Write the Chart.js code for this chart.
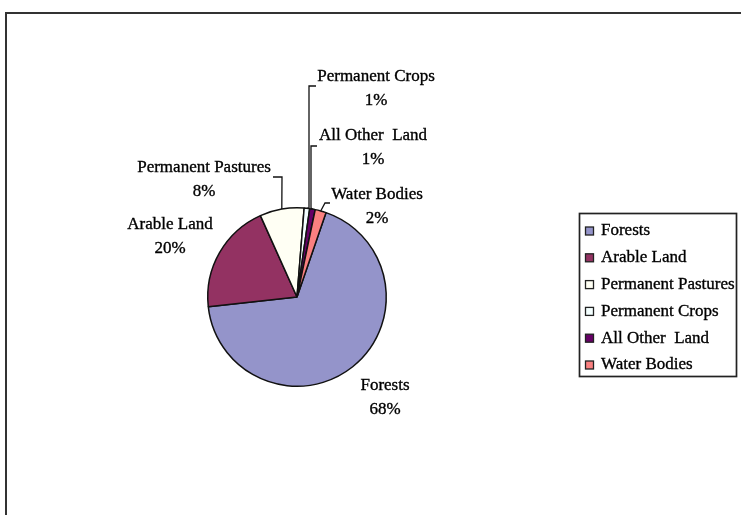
<!DOCTYPE html>
<html>
<head>
<meta charset="utf-8">
<script src="https://cdn.jsdelivr.net/npm/chart.js@4/dist/chart.umd.min.js"></script>
<style>
  html, body { margin: 0; padding: 0; background: #fff; overflow: hidden; }
  #wrap { position: relative; width: 741px; height: 515px; overflow: hidden; }
  #frame { position: absolute; left: 5px; top: 12px; width: 800px; height: 600px;
           border-top: 2px solid #333; border-left: 2px solid #333; }
  canvas { position: absolute; left: 0; top: 0; }
</style>
</head>
<body>
<div id="wrap">
  <div id="frame"></div>
  <canvas id="landUse" width="741" height="515"></canvas>
</div>
<script>
// Land use categories and their share of total area (%)
const categories = ['Forests', 'Arable Land', 'Permanent Pastures', 'Permanent Crops', 'All Other  Land', 'Water Bodies'];
const shares = [68, 20, 8, 1, 1, 2];
const sliceColors = ['#9494CA', '#933262', '#FFFFF4', '#F4FFFF', '#660066', '#FA8080'];

const FONT = '17px "Liberation Serif", "Times New Roman", serif';
const LINE_GAP = 23.5;

// Callout placement for each slice label, relative to the pie centre:
// text = centre of first text line; leader = polyline points after the slice edge point
const callouts = [
  { text: [88, 89],    leader: null },
  { text: [-127, -72], leader: null },
  { text: [-93, -129], leader: [[-15, -120], [-24, -120]] },
  { text: [79, -220],  leader: [[12, -89], [12, -211], [19, -211]] },
  { text: [76, -161],  leader: [[14, -89], [14, -151], [20, -151]] },
  { text: [80, -102],  leader: [[28, -94], [33, -94]] }
];

// Slightly heavier text so the serif face reads like the printed labels
function drawText(ctx, str, x, y) {
  ctx.lineWidth = 0.35;
  ctx.strokeStyle = '#000';
  ctx.strokeText(str, x, y);
  ctx.fillText(str, x, y);
}

const calloutPlugin = {
  id: 'callouts',
  afterDatasetsDraw(chart) {
    const ctx = chart.ctx;
    const arcs = chart.getDatasetMeta(0).data;
    ctx.save();
    ctx.font = FONT;
    ctx.fillStyle = '#000';
    ctx.textAlign = 'center';
    ctx.textBaseline = 'middle';
    arcs.forEach((arc, i) => {
      const cx = arc.x, cy = arc.y;
      const co = callouts[i];
      if (co.leader) {
        const mid = (arc.startAngle + arc.endAngle) / 2;
        ctx.strokeStyle = '#111';
        ctx.lineWidth = 1.3;
        ctx.beginPath();
        ctx.moveTo(cx + arc.outerRadius * Math.cos(mid), cy + arc.outerRadius * Math.sin(mid));
        co.leader.forEach(p => ctx.lineTo(cx + p[0], cy + p[1]));
        ctx.stroke();
      }
      const tx = cx + co.text[0], ty = cy + co.text[1];
      drawText(ctx, chart.data.labels[i], tx, ty);
      drawText(ctx, chart.data.datasets[0].data[i] + '%', tx, ty + LINE_GAP);
    });
    ctx.restore();
  }
};

// Boxed legend on the right
const boxLegendPlugin = {
  id: 'boxLegend',
  afterDraw(chart) {
    const ctx = chart.ctx;
    const ds = chart.data.datasets[0];
    ctx.save();
    ctx.strokeStyle = '#222';
    ctx.lineWidth = 1.7;
    ctx.strokeRect(579.5, 213.5, 157, 163);
    ctx.font = FONT;
    ctx.textAlign = 'left';
    ctx.textBaseline = 'middle';
    chart.data.labels.forEach((label, i) => {
      const y = 231 + i * 26.8;
      ctx.fillStyle = ds.backgroundColor[i];
      ctx.fillRect(585.5, y - 4, 8, 8);
      ctx.lineWidth = 1.3;
      ctx.strokeStyle = '#222';
      ctx.strokeRect(585.5, y - 4, 8, 8);
      ctx.fillStyle = '#000';
      drawText(ctx, label, 601, y);
    });
    ctx.restore();
  }
};

new Chart(document.getElementById('landUse'), {
  type: 'pie',
  data: {
    labels: categories,
    datasets: [{
      data: shares,
      backgroundColor: sliceColors,
      borderColor: '#111',
      borderWidth: 1.5
    }]
  },
  options: {
    responsive: false,
    animation: false,
    rotation: 19,
    layout: { padding: { left: 207, top: 207, right: 354, bottom: 128 } },
    plugins: { legend: { display: false }, tooltip: { enabled: false } }
  },
  plugins: [calloutPlugin, boxLegendPlugin]
});
</script>
</body>
</html>
